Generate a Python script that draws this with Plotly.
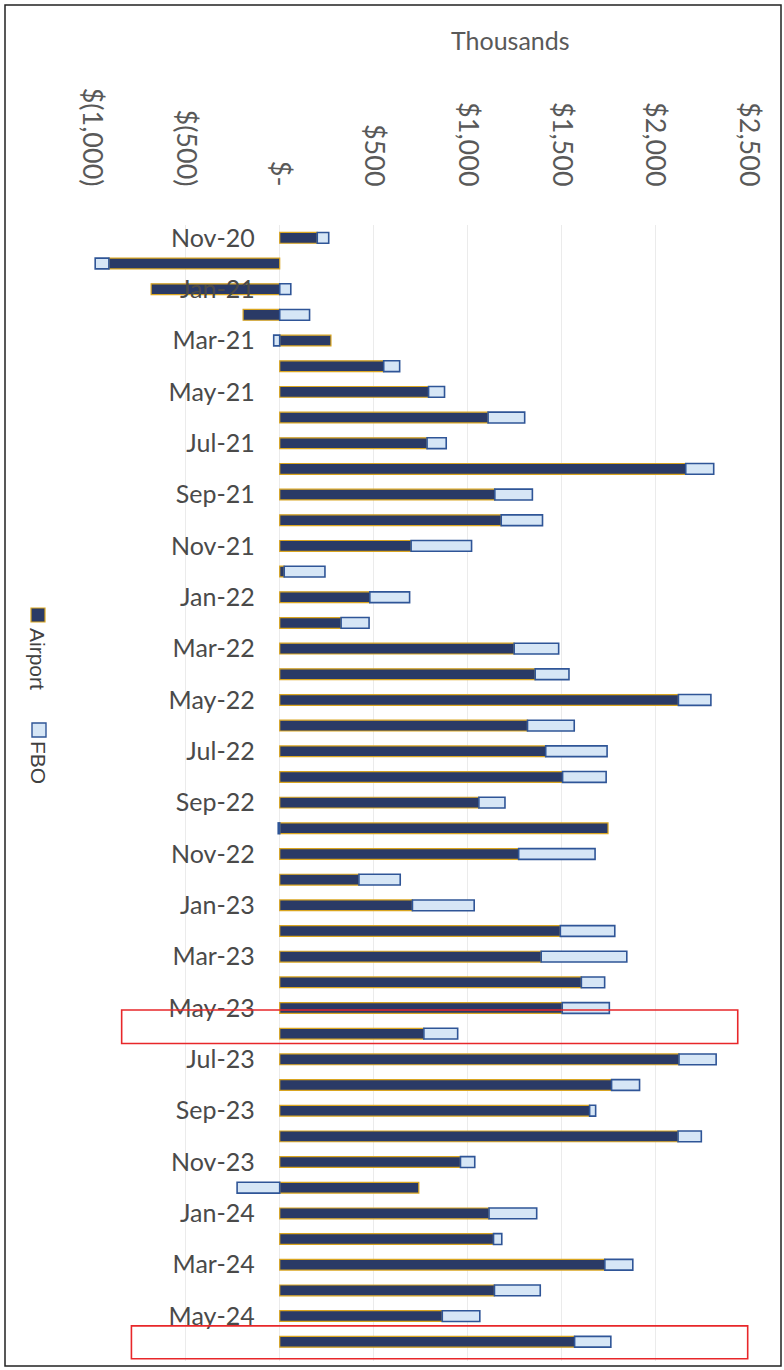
import plotly.graph_objects as go

months = ["Nov-20", "Dec-20",
          "Jan-21", "Feb-21", "Mar-21", "Apr-21", "May-21", "Jun-21",
          "Jul-21", "Aug-21", "Sep-21", "Oct-21", "Nov-21", "Dec-21",
          "Jan-22", "Feb-22", "Mar-22", "Apr-22", "May-22", "Jun-22",
          "Jul-22", "Aug-22", "Sep-22", "Oct-22", "Nov-22", "Dec-22",
          "Jan-23", "Feb-23", "Mar-23", "Apr-23", "May-23", "Jun-23",
          "Jul-23", "Aug-23", "Sep-23", "Oct-23", "Nov-23", "Dec-23",
          "Jan-24", "Feb-24", "Mar-24", "Apr-24", "May-24", "Jun-24"]

airport = [200, -910, -685, -195, 273, 554, 793, 1110, 785, 2163, 1146, 1180,
           700, 24, 480, 327, 1249, 1361, 2124, 1320, 1417, 1507, 1061, 1749,
           1273, 422, 707, 1495, 1393, 1607, 1505, 768, 2127, 1768, 1651, 2122,
           963, 741, 1115, 1139, 1732, 1144, 866, 1571]

fbo = [61, -73, 59, 159, -32, 85, 85, 195, 102, 149, 200, 220,
       322, 217, 212, 149, 237, 180, 173, 249, 327, 232, 139, -8,
       407, 220, 329, 290, 456, 124, 251, 180, 198, 149, 32, 124,
       76, -227, 254, 44, 149, 244, 200, 193]

x_tickvals = [-1000, -500, 0, 500, 1000, 1500, 2000, 2500]
x_ticktext = ["$(1,000)", "$(500)", "$-", "$500", "$1,000", "$1,500", "$2,000", "$2,500"]
x_range = [-1000, 2500]

# highlighted months (red boxes drawn on the scan)
highlight = ["Jun-23", "Jun-24"]

W, H = 784, 1370
ML, MR, MT, MB = 92, 35, 225, 9
PW, PH = W - ML - MR, H - MT - MB


def px_x(px):
    return (px - ML) / PW


def px_y(py):
    return (H - MB - py) / PH


FONT = "Lato, 'Open Sans', sans-serif"
LFONT = "'Liberation Sans', Arial, sans-serif"

fig = go.Figure()
fig.add_trace(go.Bar(
    y=months, x=airport, orientation="h", name="Airport",
    marker=dict(color="#2A3A66", line=dict(color="#D9A520", width=1.2)),
))
fig.add_trace(go.Bar(
    y=months, x=fbo, orientation="h", name="FBO",
    marker=dict(color="#D6E6F6", line=dict(color="#2F5597", width=1.6)),
))

shapes = []
# red highlight boxes
i1 = months.index(highlight[0])
i2 = months.index(highlight[1])
shapes.append(dict(type="rect", xref="x", yref="y", x0=-842, x1=2440,
                   y0=i1 - 0.92, y1=i1 + 0.38, line=dict(color="#E8272A", width=1.6)))
shapes.append(dict(type="rect", xref="x", yref="y", x0=-790, x1=2493,
                   y0=i2 - 0.62, y1=i2 + 0.66, line=dict(color="#E8272A", width=1.6)))
# outer frame
shapes.append(dict(type="rect", xref="paper", yref="paper",
                   x0=px_x(5), x1=px_x(781), y0=px_y(1366), y1=px_y(5),
                   line=dict(color="#222222", width=1.5)))
# legend swatches
shapes.append(dict(type="rect", xref="paper", yref="paper",
                   x0=px_x(31), x1=px_x(45), y0=px_y(622), y1=px_y(608),
                   fillcolor="#2A3A66", line=dict(color="#D9A520", width=1.2)))
shapes.append(dict(type="rect", xref="paper", yref="paper",
                   x0=px_x(32), x1=px_x(46), y0=px_y(737), y1=px_y(723),
                   fillcolor="#D6E6F6", line=dict(color="#2F5597", width=1.4)))

annotations = [
    dict(text="Thousands", xref="paper", yref="paper", x=px_x(510), y=px_y(40),
         showarrow=False, font=dict(family=FONT, size=25, color="#595959"),
         xanchor="center", yanchor="middle"),
    dict(text="Airport", xref="paper", yref="paper", x=px_x(38), y=px_y(659),
         showarrow=False, textangle=90, font=dict(family=LFONT, size=21, color="#404040"),
         xanchor="center", yanchor="middle"),
    dict(text="FBO", xref="paper", yref="paper", x=px_x(39), y=px_y(762),
         showarrow=False, textangle=90, font=dict(family=LFONT, size=21, color="#404040"),
         xanchor="center", yanchor="middle"),
]

fig.update_layout(
    width=W, height=H,
    margin=dict(l=ML, r=MR, t=MT, b=MB, autoexpand=False),
    paper_bgcolor="white", plot_bgcolor="white",
    barmode="relative", bargap=0.58,
    showlegend=False,
    shapes=shapes, annotations=annotations,
    font=dict(family=FONT, color="#404040"),
)
fig.update_xaxes(
    side="top", range=x_range, automargin=False,
    tickvals=x_tickvals, ticktext=x_ticktext, tickangle=90,
    tickfont=dict(family=FONT, size=27, color="#595959"),
    showgrid=True, gridcolor="#EBEBEB", gridwidth=1,
    zeroline=False, showline=False, ticks="outside", ticklen=28, tickcolor="rgba(0,0,0,0)",
)
# category axis crosses the value axis at zero, as in the source chart
fig.update_yaxes(
    type="category", categoryorder="array", categoryarray=months,
    range=[len(months) - 0.25, -0.5], automargin=False,
    anchor="free", position=(0 - x_range[0]) / (x_range[1] - x_range[0]),
    tickvals=months[::2], ticktext=months[::2],
    tickfont=dict(family=FONT, size=25, color="#4A4A4A"),
    showgrid=False, zeroline=False, showline=False,
    ticks="outside", ticklen=20, tickcolor="rgba(0,0,0,0)",
)

fig.write_html("out.html")
